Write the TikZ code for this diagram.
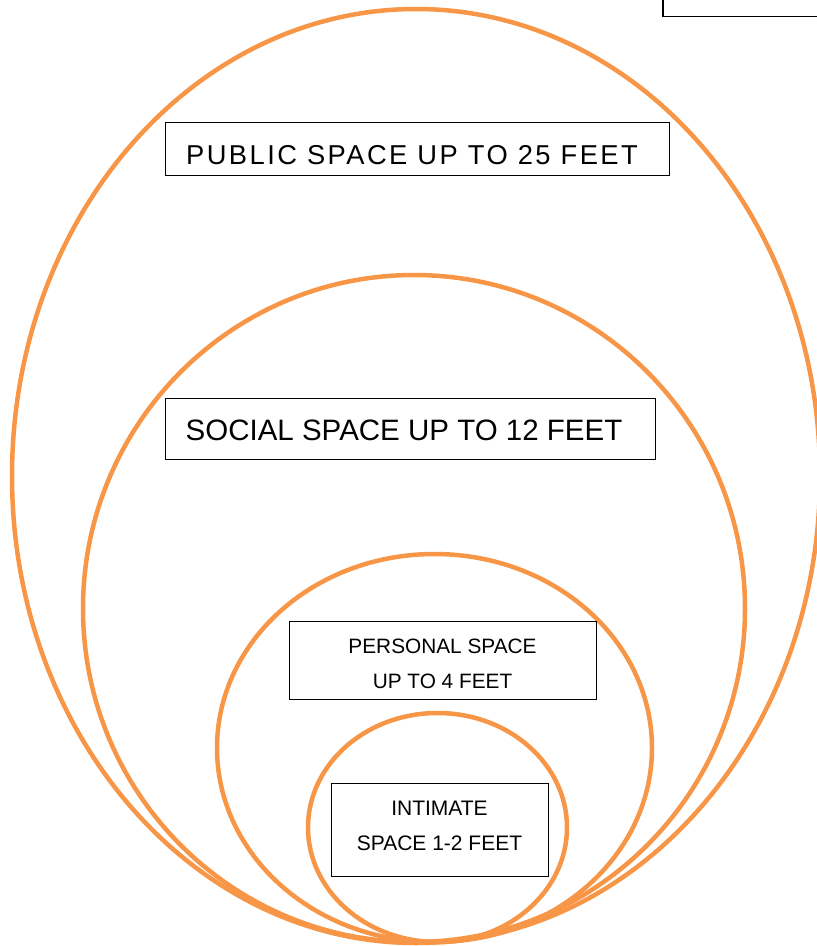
\documentclass[tikz,border=0pt]{standalone}
\usepackage{fontspec}
\setmainfont{Liberation Sans}
\usetikzlibrary{shapes.geometric}
\definecolor{zoneorange}{HTML}{F79646}
\newcommand\shiftdown[2]{\raisebox{-#1}[\height][\depth]{#2}}
\begin{document}
\begin{tikzpicture}[x=1pt,y=-1pt,
  zone/.style={draw=zoneorange, line width=4.5pt, ellipse, inner sep=0pt},
  labelbox/.style={draw=black, line width=1pt, rectangle, inner sep=0pt, align=center}]
\useasboundingbox (0,0) rectangle (817,946);
% zones
\node[zone, minimum width=808pt, minimum height=934pt] (public) at (416,476) {};
\node[zone, minimum width=662pt, minimum height=667pt] (social) at (414,608.5) {};
\node[zone, minimum width=435pt, minimum height=388pt] (personal) at (434.5,748) {};
\node[zone, minimum width=259pt, minimum height=229pt] (intimate) at (437.5,827.5) {};
% top-right box
\node[draw=black, line width=1.5pt, rectangle, minimum width=170pt, minimum height=30pt, anchor=south west] (corner) at (662,17) {};
% label boxes
\node[labelbox, minimum width=504pt, minimum height=53pt,
  font={\fontsize{27.3}{30}\selectfont\addfontfeature{LetterSpace=9}}] (publicbox) at (417,148.5)
  {\shiftdown{7pt}{PUBLIC SPACE UP TO 25 FEET}\hspace*{10pt}};
\node[labelbox, minimum width=490pt, minimum height=61pt,
  font={\fontsize{29.5}{34}\selectfont}] (socialbox) at (410,428.5)
  {\shiftdown{2pt}{SOCIAL SPACE UP TO 12 FEET}\hspace*{12pt}};
\node[labelbox, minimum width=307pt, minimum height=78pt,
  font={\fontsize{20.8}{35}\selectfont}] (personalbox) at (442.5,660)
  {\shiftdown{4pt}{\begin{tabular}{@{}c@{}}PERSONAL SPACE\\UP TO 4 FEET\end{tabular}}};
\node[labelbox, minimum width=217pt, minimum height=93pt,
  font={\fontsize{21}{35}\selectfont}] (intimatebox) at (439.5,829.5)
  {\shiftdown{-3.5pt}{\begin{tabular}{@{}c@{}}INTIMATE\\SPACE 1-2 FEET\end{tabular}}};
\end{tikzpicture}
\end{document}
